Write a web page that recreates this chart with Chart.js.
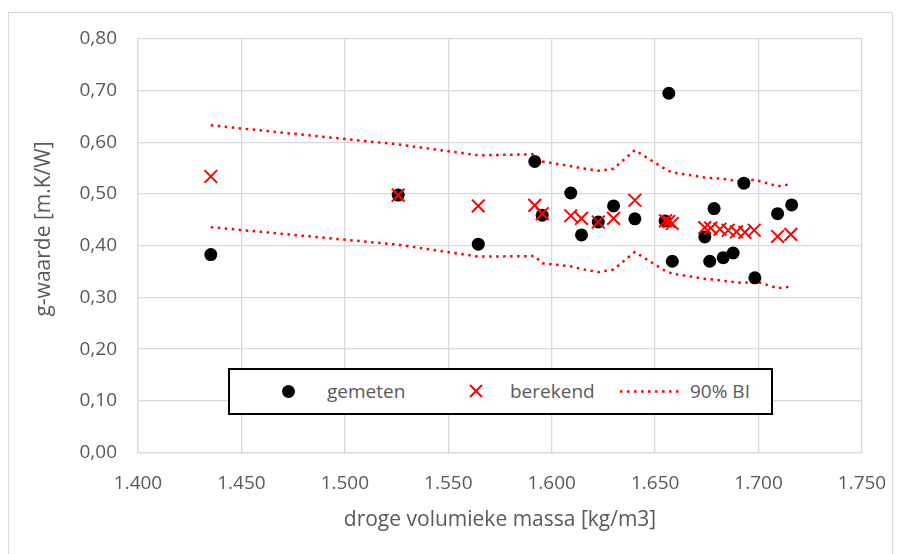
<!DOCTYPE html>
<html lang="nl">
<head>
    <meta charset="UTF-8">
    <title>g-waarde t.o.v. droge volumieke massa</title>
    <script src="https://cdn.jsdelivr.net/npm/chart.js"></script>
    <style>
        html, body { margin: 0; padding: 0; background: #fff; }
        #wrap { position: relative; width: 901px; height: 554px; overflow: hidden; }
        #frame { position: absolute; left: 8px; top: 12px; width: 885px; height: 560px; border: 1px solid #d9d9d9; box-sizing: border-box; }
        canvas { position: absolute; left: 0; top: 0; }
        #legend { position: absolute; left: 228px; top: 368px; width: 545px; height: 47px; border: 2px solid #000; background: #fff; box-sizing: border-box; }
        .lg { position: absolute; font-family: 'Open Sans', sans-serif; font-size: 19px; color: #595959; line-height: 26px; top: 378px; white-space: nowrap; }
        .dot { position: absolute; left: 282px; top: 385px; width: 13px; height: 13px; border-radius: 50%; background: #000; }
        svg.ic { position: absolute; }
    </style>
</head>
<body>
<div id="wrap">
    <div id="frame"></div>
    <canvas id="gChart" width="901" height="554"></canvas>
    <div id="legend"></div>
    <div class="dot"></div>
    <div class="lg" style="left:327px">gemeten</div>
    <svg class="ic" style="left:469px;top:384px" width="14" height="14"><line x1="1" y1="1" x2="13" y2="13" stroke="#ff0000" stroke-width="2"/><line x1="13" y1="1" x2="1" y2="13" stroke="#ff0000" stroke-width="2"/></svg>
    <div class="lg" style="left:510px">berekend</div>
    <svg class="ic" style="left:619px;top:389px" width="64" height="5"><line x1="1" y1="2.5" x2="63" y2="2.5" stroke="#ff0000" stroke-width="2.5" stroke-dasharray="2.5 4.5"/></svg>
    <div class="lg" style="left:690px">90% BI</div>
</div>

<script>
    // gemeten (measured) points
    const gemetenX = [1.4352, 1.5258, 1.5645, 1.5918, 1.5954, 1.6092, 1.6144, 1.6225, 1.6299, 1.6402, 1.6548,
                      1.6566, 1.6583, 1.6740, 1.6764, 1.6785, 1.6829, 1.6877, 1.6929, 1.6982, 1.7092, 1.7160];
    const gemetenY = [0.383, 0.498, 0.403, 0.563, 0.459, 0.502, 0.421, 0.446, 0.477, 0.452, 0.448,
                      0.695, 0.370, 0.417, 0.370, 0.472, 0.377, 0.386, 0.521, 0.338, 0.462, 0.479];

    // berekend (calculated) points
    const berekendX = [1.4352, 1.5258, 1.5645, 1.5918, 1.5954, 1.6092, 1.6144, 1.6225, 1.6299, 1.6402, 1.6550,
                       1.6566, 1.6583, 1.6740, 1.6769, 1.6813, 1.6853, 1.6893, 1.6934, 1.6979, 1.7092, 1.7156];
    const berekendY = [0.534, 0.498, 0.477, 0.478, 0.462, 0.458, 0.453, 0.446, 0.453, 0.488, 0.448,
                       0.447, 0.443, 0.435, 0.434, 0.432, 0.430, 0.427, 0.426, 0.430, 0.418, 0.422];

    // 90% betrouwbaarheidsinterval, at the berekend x values
    const biUpper = [0.633, 0.596, 0.575, 0.577, 0.563, 0.554, 0.550, 0.545, 0.549, 0.585, 0.548,
                     0.545, 0.542, 0.532, 0.531, 0.530, 0.528, 0.525, 0.524, 0.528, 0.515, 0.519];
    const biLower = [0.436, 0.402, 0.379, 0.380, 0.366, 0.360, 0.355, 0.349, 0.354, 0.388, 0.351,
                     0.349, 0.346, 0.336, 0.335, 0.333, 0.331, 0.329, 0.328, 0.332, 0.318, 0.321];

    const xTickLabels = ['1.400', '1.450', '1.500', '1.550', '1.600', '1.650', '1.700', '1.750'];
    const yTickLabels = ['0,00', '0,10', '0,20', '0,30', '0,40', '0,50', '0,60', '0,70', '0,80'];

    const pts = (xs, ys) => xs.map((x, i) => ({ x: x, y: ys[i] }));

    const textGrey = '#595959';
    const gridGrey = '#d9d9d9';
    const tickFont = { family: "'Open Sans', sans-serif", size: 19 };
    const titleFont = { family: "'Open Sans', sans-serif", size: 21 };

    const biStyle = {
        showLine: true,
        pointRadius: 0,
        pointHoverRadius: 0,
        borderColor: '#ff0000',
        borderWidth: 2.5,
        borderDash: [2.5, 4.5],
        fill: false,
        tension: 0
    };

    // y-axis title sits a bit above the middle of the plot in the original
    const yTitlePlugin = {
        id: 'yTitle',
        afterDraw(chart) {
            const c = chart.ctx;
            c.save();
            c.translate(44, 229);
            c.rotate(-Math.PI / 2);
            c.font = titleFont.size + 'px ' + titleFont.family;
            c.fillStyle = textGrey;
            c.textAlign = 'center';
            c.textBaseline = 'middle';
            c.fillText('g-waarde [m.K/W]', 0, 0);
            c.restore();
        }
    };

    const ctx = document.getElementById('gChart').getContext('2d');
    new Chart(ctx, {
        type: 'scatter',
        data: {
            datasets: [
                {
                    label: 'berekend',
                    data: pts(berekendX, berekendY),
                    pointStyle: 'crossRot',
                    pointRadius: 9,
                    pointHoverRadius: 9,
                    borderColor: '#ff0000',
                    backgroundColor: '#ff0000',
                    borderWidth: 2
                },
                {
                    label: 'gemeten',
                    data: pts(gemetenX, gemetenY),
                    pointStyle: 'circle',
                    pointRadius: 6.5,
                    pointHoverRadius: 6.5,
                    borderColor: '#000000',
                    backgroundColor: '#000000',
                    borderWidth: 0
                },
                Object.assign({ label: '90% BI', data: pts(berekendX, biUpper) }, biStyle),
                Object.assign({ label: '90% BI (onder)', data: pts(berekendX, biLower) }, biStyle)
            ]
        },
        options: {
            responsive: false,
            animation: false,
            layout: { padding: { left: 8, right: 39, top: 39, bottom: 8 } },
            plugins: {
                legend: { display: false },
                tooltip: { enabled: false }
            },
            scales: {
                x: {
                    type: 'linear',
                    min: 1.4,
                    max: 1.75,
                    ticks: {
                        stepSize: 0.05,
                        padding: 20,
                        color: textGrey,
                        font: tickFont,
                        callback: (v, i) => xTickLabels[i]
                    },
                    grid: { color: gridGrey, lineWidth: 1.3, drawTicks: false },
                    border: { color: gridGrey, width: 1.3 },
                    title: {
                        display: true,
                        text: 'droge volumieke massa [kg/m3]',
                        color: textGrey,
                        font: titleFont,
                        padding: { top: 0, bottom: 13 }
                    },
                    afterFit: (scale) => {
                        scale.height = 93.5;
                        scale.paddingLeft = 0;
                        scale.paddingRight = 0;
                    }
                },
                y: {
                    min: 0,
                    max: 0.8,
                    ticks: {
                        stepSize: 0.1,
                        padding: 21,
                        color: textGrey,
                        font: tickFont,
                        callback: (v, i) => yTickLabels[i]
                    },
                    grid: { color: gridGrey, lineWidth: 1.3, drawTicks: false },
                    border: { color: gridGrey, width: 1.3 },
                    afterFit: (scale) => {
                        scale.width = 130;
                        scale.paddingTop = 0;
                        scale.paddingBottom = 0;
                    }
                }
            }
        },
        plugins: [yTitlePlugin]
    });
</script>
</body>
</html>
